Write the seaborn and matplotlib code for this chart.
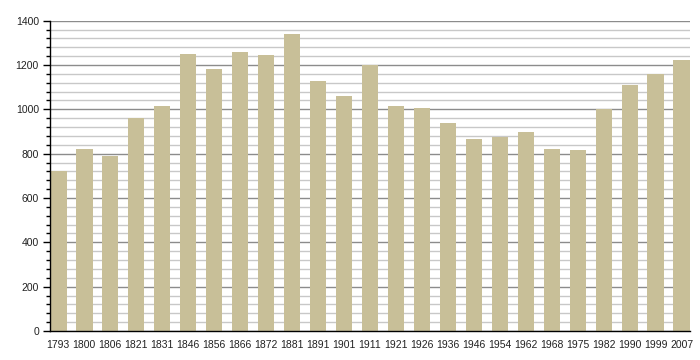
import pandas as pd
import seaborn as sns
import matplotlib.pyplot as plt
from matplotlib.ticker import MultipleLocator

# census years and population
years = ["1793", "1800", "1806", "1821", "1831", "1846", "1856", "1866", "1872",
         "1881", "1891", "1901", "1911", "1921", "1926", "1936", "1946", "1954",
         "1962", "1968", "1975", "1982", "1990", "1999", "2007"]
population = [720, 820, 790, 960, 1015, 1250, 1182, 1259, 1245,
              1340, 1128, 1060, 1199, 1015, 1006, 939, 866, 877,
              898, 821, 817, 1002, 1110, 1160, 1223]

df = pd.DataFrame({"year": years, "pop": population})

sns.set_style("white")
plt.rcParams['font.family'] = ['Liberation Sans', 'DejaVu Sans']

fig = plt.figure(figsize=(7, 3.6), dpi=100)
ax = fig.add_axes([50 / 700, 29 / 360, 640 / 700, 310.3 / 360])

w = 0.636
sns.barplot(data=df, x="year", y="pop", color="#c8bf98", width=w,
            saturation=1, linewidth=0, edgecolor="none", ax=ax, zorder=3)

ax.set_xlim(-w / 2, len(years) - 1 + w / 2)
ax.set_ylim(0, 1400)
ax.yaxis.set_major_locator(MultipleLocator(200))
ax.yaxis.set_minor_locator(MultipleLocator(40))
ax.grid(which="major", axis="y", color="#8c8c8c", linewidth=1, zorder=0)
ax.grid(which="minor", axis="y", color="#c8c8c8", linewidth=1, zorder=0)
ax.set_axisbelow(True)

for s in ["top", "right"]:
    ax.spines[s].set_visible(False)
for s in ["left", "bottom"]:
    ax.spines[s].set_color("black")
    ax.spines[s].set_linewidth(1)
    ax.spines[s].set_zorder(5)

ax.tick_params(axis="y", which="major", left=True, length=5, width=1,
               color="black", labelsize=7.5, labelcolor="#222222", pad=3)
ax.tick_params(axis="y", which="minor", left=True, length=3, width=1,
               color="black")
ax.tick_params(axis="x", bottom=False, labelsize=7.5, labelcolor="#222222", pad=3)
ax.set_xlabel("")
ax.set_ylabel("")

fig.savefig("out.png", dpi=100)
